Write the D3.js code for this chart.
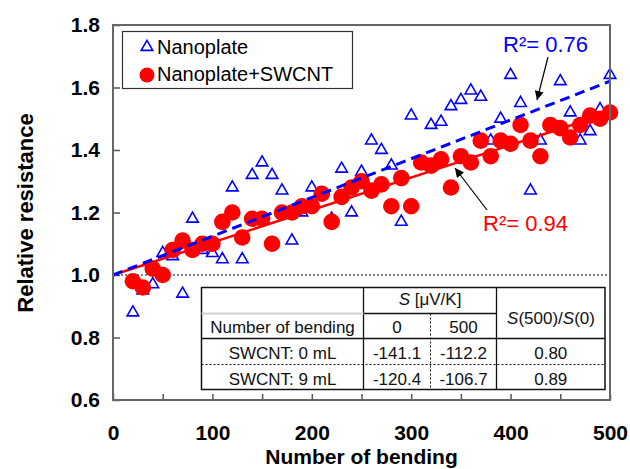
<!DOCTYPE html>
<html>
<head>
<meta charset="utf-8">
<script src="https://cdn.jsdelivr.net/npm/d3@7"></script>
<style>
  html, body { margin: 0; padding: 0; background: #fff; }
  svg { display: block; }
  text { font-family: Arial, "Liberation Sans", sans-serif; }
</style>
</head>
<body>
<svg id="chart" width="630" height="469"></svg>
<script>
// ---------- data ----------
const bending = [20,30,40,50,60,70,80,90,100,110,120,130,140,150,160,170,180,190,200,
  210,220,230,240,250,260,270,280,290,300,310,320,330,340,350,360,370,380,390,400,
  410,420,430,440,450,460,470,480,490,500];
const nanoplate = [0.88,0.95,0.97,1.07,1.06,0.94,1.18,1.08,1.07,1.05,1.28,1.05,1.32,1.36,1.32,1.27,
  1.11,1.20,1.28,1.26,1.18,1.34,1.20,1.33,1.43,1.40,1.35,1.17,1.51,1.36,1.48,1.49,1.54,1.56,
  1.59,1.57,1.43,1.50,1.64,1.55,1.27,1.43,1.48,1.62,1.52,1.43,1.46,1.53,1.64];
const nanoSwcnt = [0.98,0.96,1.02,1.00,1.08,1.11,1.08,1.10,1.10,1.17,1.20,1.12,1.18,1.18,1.10,1.20,
  1.20,1.22,1.22,1.26,1.17,1.25,1.28,1.30,1.27,1.29,1.22,1.31,1.22,1.36,1.35,1.37,1.28,1.38,
  1.36,1.43,1.38,1.43,1.42,1.48,1.43,1.38,1.48,1.47,1.44,1.48,1.51,1.50,1.52];
const trendX = [0, 500];
const nanoTrend = [1.0, 1.62];
const swcntTrend = [1.0, 1.52];
const xTicks = [0,50,100,150,200,250,300,350,400,450,500];
const yTicks = [0.6,0.8,1.0,1.2,1.4,1.6,1.8];
const seriesNames = ["Nanoplate", "Nanoplate+SWCNT"];
const r2Labels = ["R\u00B2= 0.76", "R\u00B2= 0.94"];
const tableRows = ["SWCNT: 0 mL", "SWCNT: 9 mL"];
const tableS0 = ["-141.1", "-120.4"];
const tableS500 = ["-112.2", "-106.7"];
const tableRatio = ["0.80", "0.89"];

// ---------- layout ----------
const svg = d3.select("#chart");
const L = 113, R = 610, T = 25, B = 400;
const x = d3.scaleLinear().domain([0, 500]).range([L, R]);
const y = d3.scaleLinear().domain([0.6, 1.8]).range([B, T]);
const BLUE = "#0000ff", RED = "#ff0000";

// axes (inward ticks)
const xAxis = d3.axisBottom(x).tickValues(xTicks)
  .tickFormat(d => d % 100 === 0 ? d : "")
  .tickSizeInner(-6).tickSizeOuter(0).tickPadding(25);
const gx = svg.append("g").attr("transform", `translate(0,${B})`).call(xAxis);
gx.select(".domain").remove();
gx.selectAll("line").attr("stroke", "#555").attr("stroke-width", 1.5);
gx.selectAll("text").attr("font-size", 21).attr("font-weight", "bold").attr("fill", "#000")
  .style("font-family", "Arial, 'Liberation Sans', sans-serif");

const yAxis = d3.axisLeft(y).tickValues(yTicks).tickFormat(d3.format(".1f"))
  .tickSizeInner(-7).tickSizeOuter(0).tickPadding(13);
const gy = svg.append("g").attr("transform", `translate(${L},0)`).call(yAxis);
gy.select(".domain").remove();
gy.selectAll("line").attr("stroke", "#555").attr("stroke-width", 1.5);
gy.selectAll("text").attr("font-size", 21).attr("font-weight", "bold").attr("fill", "#000")
  .style("font-family", "Arial, 'Liberation Sans', sans-serif");

// dotted reference line at 1.0
svg.append("line")
  .attr("x1", x(0)).attr("x2", x(500)).attr("y1", y(1.0)).attr("y2", y(1.0))
  .attr("stroke", "#000").attr("stroke-width", 1).attr("stroke-dasharray", "2,2");

// triangles (Nanoplate)
const tri = d3.symbol().type(d3.symbolTriangle).size(58);
svg.append("g").selectAll("path").data(bending).join("path")
  .attr("d", tri)
  .attr("transform", (d, i) => `translate(${x(d)},${y(nanoplate[i])})`)
  .attr("fill", "none").attr("stroke", BLUE).attr("stroke-width", 1.6);

// circles (Nanoplate+SWCNT)
svg.append("g").selectAll("circle").data(bending).join("circle")
  .attr("cx", d => x(d)).attr("cy", (d, i) => y(nanoSwcnt[i])).attr("r", 8.3)
  .attr("fill", RED);

// trend lines
svg.append("line")
  .attr("x1", x(trendX[0])).attr("y1", y(swcntTrend[0]))
  .attr("x2", x(trendX[1])).attr("y2", y(swcntTrend[1]))
  .attr("stroke", RED).attr("stroke-width", 2.5);
svg.append("line")
  .attr("x1", x(trendX[0])).attr("y1", y(nanoTrend[0]))
  .attr("x2", x(trendX[1])).attr("y2", y(nanoTrend[1]))
  .attr("stroke", BLUE).attr("stroke-width", 3).attr("stroke-dasharray", "10,6");

// frame
svg.append("rect").attr("x", L).attr("y", T).attr("width", R - L).attr("height", B - T)
  .attr("fill", "none").attr("stroke", "#666").attr("stroke-width", 2);

// legend
svg.append("rect").attr("x", 122.5).attr("y", 31.5).attr("width", 230).attr("height", 57)
  .attr("fill", "#fff").attr("stroke", "#333").attr("stroke-width", 1.2);
svg.append("path").attr("d", tri).attr("transform", "translate(147,47)")
  .attr("fill", "none").attr("stroke", BLUE).attr("stroke-width", 1.6);
svg.append("circle").attr("cx", 147).attr("cy", 75).attr("r", 7.5).attr("fill", RED);
svg.append("text").attr("x", 157).attr("y", 54).attr("font-size", 20).text(seriesNames[0]);
svg.append("text").attr("x", 157).attr("y", 81).attr("font-size", 20).text(seriesNames[1]);

// arrows
const defs = svg.append("defs");
defs.append("marker").attr("id", "ah").attr("viewBox", "0 0 10 10")
  .attr("refX", 10).attr("refY", 5).attr("markerWidth", 10).attr("markerHeight", 9)
  .attr("markerUnits", "userSpaceOnUse").attr("orient", "auto")
  .append("path").attr("d", "M0,0 L10,5 L0,10 Z").attr("fill", "#000");
svg.append("line").attr("x1", 548).attr("y1", 57).attr("x2", 537).attr("y2", 100)
  .attr("stroke", "#000").attr("stroke-width", 1.2).attr("marker-end", "url(#ah)");
svg.append("line").attr("x1", 487).attr("y1", 210).attr("x2", 455).attr("y2", 168)
  .attr("stroke", "#000").attr("stroke-width", 1.2).attr("marker-end", "url(#ah)");
svg.append("text").attr("x", 503).attr("y", 52).attr("font-size", 22).attr("fill", BLUE).text(r2Labels[0]);
svg.append("text").attr("x", 483).attr("y", 231).attr("font-size", 22).attr("fill", RED).text(r2Labels[1]);

// table
const tL = 201.5, tR = 605, tT = 287.5, tB = 389.5;
const c1 = 363.5, cMid = 430.5, c2 = 496.5;
const h1 = 313.5, r1 = 338.5, r2 = 364.5;
const tg = svg.append("g");
tg.append("rect").attr("x", tL).attr("y", tT).attr("width", tR - tL).attr("height", tB - tT)
  .attr("fill", "#fff").attr("stroke", "#111").attr("stroke-width", 1.5);
const ln = (x1, y1, x2, y2, opts = {}) => tg.append("line")
  .attr("x1", x1).attr("y1", y1).attr("x2", x2).attr("y2", y2)
  .attr("stroke", opts.c || "#111").attr("stroke-width", opts.w || 1.3)
  .attr("stroke-dasharray", opts.dash || null);
ln(c1, tT, c1, tB);
ln(c2, tT, c2, tB);
ln(cMid, h1, cMid, tB, { dash: "2,2", w: 1 });
ln(c1, h1, c2, h1);
ln(tL, h1, c1, h1, { c: "#d0d0d0", w: 2 });
ln(tL, r1, tR, r1);
ln(tL, r2, tR, r2, { dash: "2,2", w: 1 });

const tt = (xx, yy, s) => tg.append("text").attr("x", xx).attr("y", yy)
  .attr("text-anchor", "middle").attr("font-size", 17).attr("fill", "#111").text(s);
const hdr = tg.append("text").attr("x", 430).attr("y", 305).attr("text-anchor", "middle")
  .attr("font-size", 17).attr("fill", "#111");
hdr.append("tspan").attr("font-style", "italic").text("S");
hdr.append("tspan").text(" [\u03BCV/K]");
const rat = tg.append("text").attr("x", 551).attr("y", 324).attr("text-anchor", "middle")
  .attr("font-size", 17).attr("fill", "#111");
rat.append("tspan").attr("font-style", "italic").text("S");
rat.append("tspan").text("(500)/");
rat.append("tspan").attr("font-style", "italic").text("S");
rat.append("tspan").text("(0)");
tt(282.5, 332.5, "Number of bending");
tt((c1 + cMid) / 2, 332.5, "0");
tt((cMid + c2) / 2, 332.5, "500");
const rowY = [359, 385];
tableRows.forEach((name, i) => {
  tt(282.5, rowY[i], name);
  tt((c1 + cMid) / 2, rowY[i], tableS0[i]);
  tt((cMid + c2) / 2, rowY[i], tableS500[i]);
  tt((c2 + tR) / 2, rowY[i], tableRatio[i]);
});

// axis titles
svg.append("text").attr("x", (L + R) / 2).attr("y", 464).attr("text-anchor", "middle")
  .attr("font-size", 21).attr("font-weight", "bold").text("Number of bending");
svg.append("text").attr("transform", "translate(33,213) rotate(-90)").attr("text-anchor", "middle")
  .attr("font-size", 22).attr("font-weight", "bold").text("Relative resistance");
</script>
</body>
</html>
